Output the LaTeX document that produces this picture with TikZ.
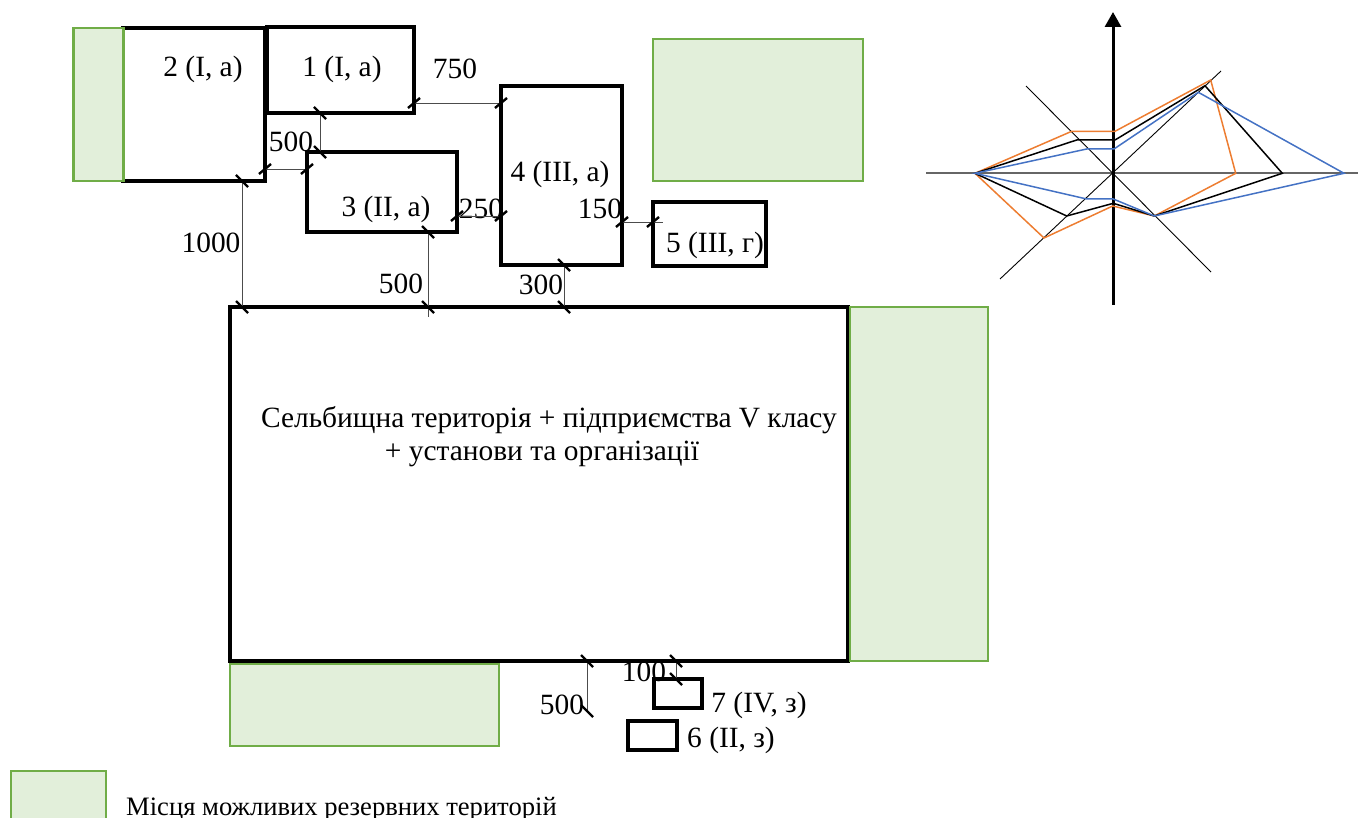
\documentclass[tikz,border=0pt]{standalone}
\usepackage{fontspec}
\setmainfont{Liberation Serif}
\usetikzlibrary{arrows.meta,calc}
\definecolor{zelen}{HTML}{70AD47}
\definecolor{zelenfill}{HTML}{E2EFDA}
\definecolor{orangeline}{HTML}{ED7D31}
\definecolor{blueline}{HTML}{4472C4}
\tikzset{
	zone/.style={draw=black,line width=3.2pt,inner sep=0pt,outer sep=0pt},
	reserve/.style={draw=zelen,fill=zelenfill,line width=2.5pt,inner sep=0pt,outer sep=0pt},
	dim/.style={draw=black!70,line width=.9pt},
	tick/.style={line width=2.4pt},
	lbl/.style={inner sep=0pt,font=\fontsize{29.4}{33}\selectfont,align=center}
}
\newcommand{\tickr}[1]{\draw[tick] ($(#1)+(-6,5)$)--($(#1)+(6,-5)$);}
\newcommand{\tickl}[1]{\draw[tick] ($(#1)+(-6,-6)$)--($(#1)+(6,6)$);}
\begin{document}
\begin{tikzpicture}[x=1pt,y=-1pt]
	\useasboundingbox (0,0) rectangle (1361,818);
	% zones
	\node[zone,minimum width=142pt,minimum height=153pt] (zona2) at (194,104.5) {};
	\node[zone,minimum width=147pt,minimum height=86pt] (zona1) at (340.5,70) {};
	\node[zone,minimum width=150pt,minimum height=80pt] (zona3) at (382,192) {};
	\node[zone,minimum width=121pt,minimum height=179pt] (zona4) at (561.5,175.5) {};
	\node[zone,minimum width=113pt,minimum height=64pt] (zona5) at (709.5,234) {};
	\node[zone,minimum width=618pt,minimum height=354pt] (selo) at (539,484) {};
	\node[zone,minimum width=48pt,minimum height=29pt] (zona7) at (678,693.5) {};
	\node[zone,minimum width=49pt,minimum height=29pt] (zona6) at (652.5,735.5) {};
	% reserve areas
	\node[reserve,minimum width=50pt,minimum height=153pt] (resa) at (98.5,104.5) {};
	\node[reserve,minimum width=210pt,minimum height=142pt] (resb) at (758,110) {};
	\node[reserve,minimum width=138pt,minimum height=354pt] (resc) at (919,484) {};
	\node[reserve,minimum width=269pt,minimum height=82pt] (resd) at (364.5,705) {};
	\node[reserve,minimum width=95pt,minimum height=60pt] (rese) at (58.5,801) {};
	% labels
	\node[lbl] (t2) at (203,69) {2 (I, а)};
	\node[lbl] (t1) at (342,69) {1 (I, а)};
	\node[lbl] (t3) at (386,209) {3 (II, а)};
	\node[lbl] (t4) at (560,174) {4 (III, а)};
	\node[lbl] (t5) at (715,245) {5 (III, г)};
	\node[lbl] (t7) at (759,705) {7 (IV, з)};
	\node[lbl] (t6) at (731,740) {6 (II, з)};
	\node[lbl] (tselo) at (549,437) {Сельбищна територія + підприємства V класу\\+ установи та організації\hspace*{14pt}};
	\node[lbl] (d750) at (455,69) {750};
	\node[lbl] (d500a) at (291,142) {500};
	\node[lbl] (d250) at (481,209) {250};
	\node[lbl] (d150) at (600,209) {150};
	\node[lbl] (d1000) at (211,243) {1000};
	\node[lbl] (d500b) at (401,284) {500};
	\node[lbl] (d300) at (541,285) {300};
	\node[lbl] (d100) at (644,672) {100};
	\node[lbl] (d500c) at (562,705) {500};
	\node[lbl,anchor=west,font=\fontsize{26.6}{30}\selectfont] (tres) at (126,809) {Місця можливих резервних територій};
	% dimension lines
	\coordinate (a1) at (zona1.east |- 0,103);
	\coordinate (a2) at (zona4.west |- 0,103);
	\draw[dim] (a1)--(a2);
	\tickr{a1} \tickr{a2}
	\coordinate (b1) at (320,0 |- zona1.south);
	\coordinate (b2) at (320,0 |- zona3.north);
	\draw[dim] (b1)--(b2);
	\tickl{b1} \tickl{b2}
	\coordinate (c1) at (zona2.east |- 0,169);
	\coordinate (c2) at (zona3.west |- 0,169);
	\draw[dim] (c1)--(c2);
	\tickr{c1} \tickr{c2}
	\coordinate (e1) at (242,0 |- zona2.south);
	\coordinate (e2) at (242,0 |- selo.north);
	\draw[dim] (e1)--(e2);
	\tickl{e1} \tickl{e2}
	\coordinate (f1) at (428,0 |- zona3.south);
	\coordinate (f2) at (428,0 |- selo.north);
	\coordinate (f3) at (428,317);
	\draw[dim] (f1)--(f3);
	\tickl{f1} \tickl{f2}
	\coordinate (g1) at (zona3.east |- 0,216);
	\coordinate (g2) at (zona4.west |- 0,216);
	\draw[dim] (g1)--(g2);
	\tickr{g1} \tickr{g2}
	\coordinate (h1) at (zona4.east |- 0,222);
	\coordinate (h2) at (zona5.west |- 0,222);
	\coordinate (h3) at (663,222);
	\draw[dim] (h1)--(h3);
	\tickr{h1} \tickr{h2}
	\coordinate (i1) at (564,0 |- zona4.south);
	\coordinate (i2) at (564,0 |- selo.north);
	\draw[dim] (i1)--(i2);
	\tickl{i1} \tickl{i2}
	\coordinate (j1) at (587,0 |- selo.south);
	\coordinate (j2) at (587,711);
	\draw[dim] (j1)--(j2);
	\tickl{j1} \tickl{j2}
	\coordinate (k1) at (676,0 |- selo.south);
	\coordinate (k2) at (676,0 |- zona7.north);
	\draw[dim] (k1)--(k2);
	\tickl{k1} \tickl{k2}
	% rose
	\coordinate (o) at (1113,173);
	\draw[black!60,line width=1.2pt] (926,173)--(1358,173);
	\draw[line width=.9pt] (1026,86)--(1211,272);
	\draw[line width=.9pt] (1000,279)--(1221,71);
	\draw[line width=3pt,-{Stealth[length=15pt,width=16pt,inset=0pt]}] (1113,305)--(1113,12);
	\draw[orangeline,line width=1.5pt] (975,173.3)--(1071.7,131.3)--(1115,131.3)--(1210.7,80)--(1235.7,173.3)--(1154.3,216)--(1112.7,206)--(1044,238)--cycle;
	\draw[black,line width=1.5pt] (975,173.3)--(1076.7,140)--(1115,140)--(1205,85.7)--(1282.3,173.3)--(1154.3,216)--(1113.3,203.3)--(1066.7,216)--cycle;
	\draw[blueline,line width=1.5pt] (975,173.3)--(1086.7,149)--(1114,149)--(1198.3,92.3)--(1344,173.3)--(1154.3,216)--(1113.3,199)--(1086.7,199)--cycle;
\end{tikzpicture}
\end{document}
